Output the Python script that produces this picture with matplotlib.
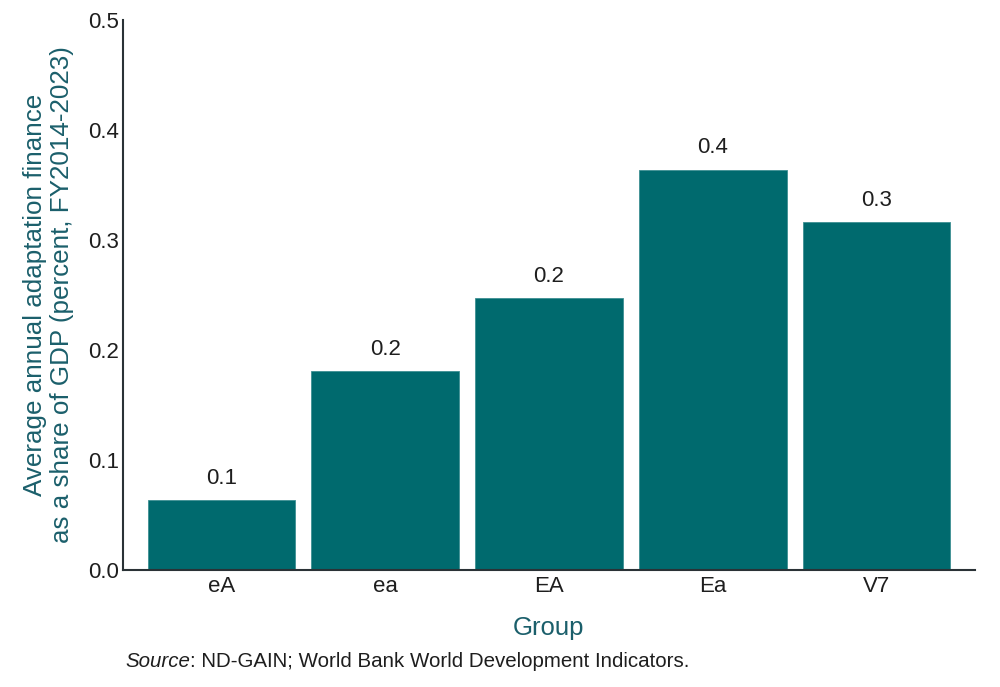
import matplotlib
matplotlib.use("Agg")
import matplotlib.pyplot as plt

categories = ["eA", "ea", "EA", "Ea", "V7"]
values = [0.0636, 0.181, 0.247, 0.364, 0.316]
value_labels = ["0.1", "0.2", "0.2", "0.4", "0.3"]
yticks = [0.0, 0.1, 0.2, 0.3, 0.4, 0.5]
ytick_labels = ["0.0", "0.1", "0.2", "0.3", "0.4", "0.5"]

plt.rcParams['font.family'] = ['Liberation Sans', 'DejaVu Sans']

bar_color = "#006A6E"
label_color = "#1B5F6B"
text_color = "#1E1E1E"

fig = plt.figure(figsize=(10, 6.87), dpi=100)
ax = fig.add_axes([0.123, 0.1703, 0.852, 0.8006])

x = list(range(len(categories)))
ax.bar(x, values, width=0.9, color=bar_color, edgecolor="#3E8F93", linewidth=0.6)
for xi, v, lab in zip(x, values, value_labels):
    ax.annotate(lab, (xi, v), xytext=(0, 8), textcoords="offset points",
                ha="center", va="bottom", fontsize=16, color=text_color)

ax.set_xlim(-0.6, 4.6)
ax.set_ylim(0, 0.5)
ax.set_xticks(x)
ax.set_xticklabels(categories)
ax.set_yticks(yticks)
ax.set_yticklabels(ytick_labels)
ax.tick_params(axis="both", length=0, labelsize=16, labelcolor=text_color)
ax.tick_params(axis="x", pad=4)
ax.tick_params(axis="y", pad=3)
for s in ["top", "right"]:
    ax.spines[s].set_visible(False)
for s in ["left", "bottom"]:
    ax.spines[s].set_color("#2A3236")
    ax.spines[s].set_linewidth(1.5)

ax.set_xlabel("Group", fontsize=18.5, color=label_color, labelpad=14)
ax.set_ylabel("Average annual adaptation finance\nas a share of GDP (percent, FY2014-2023)",
              fontsize=18.7, color=label_color, labelpad=10, linespacing=1.15)

src = fig.text(0.125, 0.037, "Source", fontsize=14.8, color=text_color, va="center", style="italic")
fig.canvas.draw()
bb = src.get_window_extent()
x1 = bb.x1 / fig.bbox.width
fig.text(x1, 0.037, ": ND-GAIN; World Bank World Development Indicators.", fontsize=14.8,
         color=text_color, va="center")

fig.savefig("out.png", dpi=100)
